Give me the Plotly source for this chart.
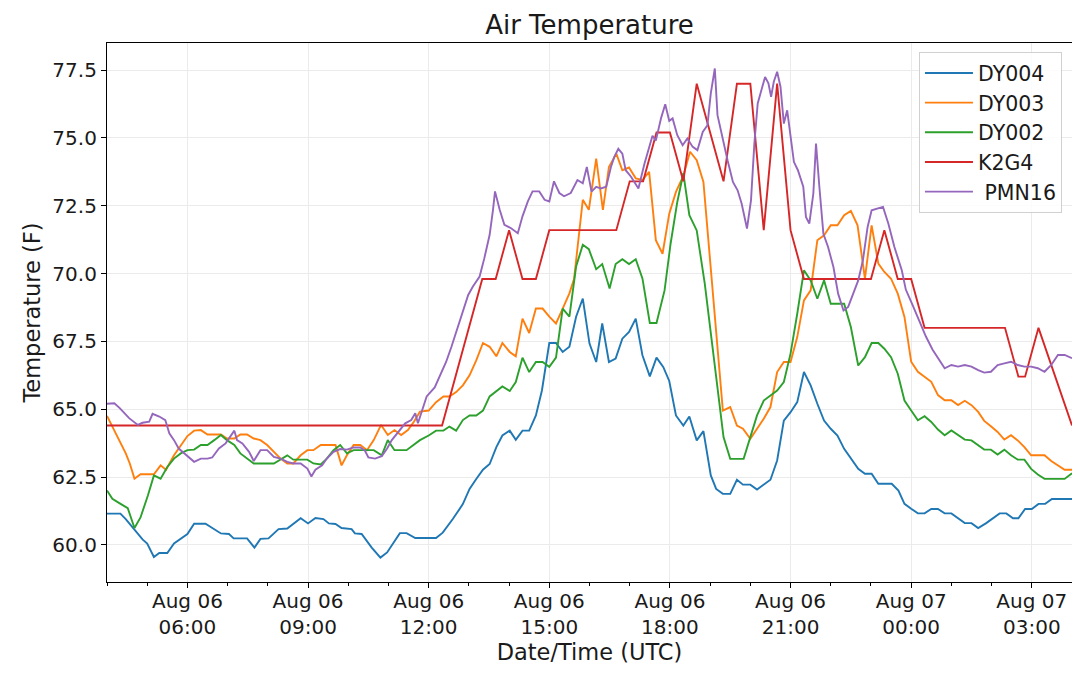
import pandas as pd
import plotly.graph_objects as go

# readings, times are UTC clock times starting Aug 06 04:00 (rolls into Aug 07)
DY004_TIME = [
    "04:00", "04:20", "04:28", "04:40", "04:53", "05:00", "05:10", "05:18", "05:30", "05:40",
    "06:00", "06:10", "06:27", "06:50", "07:02", "07:09", "07:29", "07:40", "07:49", "08:01",
    "08:16", "08:29", "08:49", "09:00", "09:11", "09:23", "09:31", "09:41", "09:50", "10:05",
    "10:10", "10:20", "10:35", "10:48", "10:58", "11:17", "11:27", "11:40", "12:11", "12:21",
    "12:36", "12:51", "13:01", "13:11", "13:21", "13:31", "13:41", "13:50", "14:01", "14:10",
    "14:20", "14:30", "14:40", "14:49", "15:00", "15:10", "15:20", "15:30", "15:40", "15:50",
    "16:00", "16:10", "16:19", "16:29", "16:39", "16:49", "16:59", "17:09", "17:19", "17:30",
    "17:40", "17:50", "17:59", "18:09", "18:20", "18:29", "18:40", "18:50", "19:01", "19:09",
    "19:19", "19:30", "19:40", "19:49", "20:00", "20:10", "20:20", "20:30", "20:40", "20:50",
    "21:00", "21:10", "21:20", "21:30", "21:40", "21:50", "22:00", "22:10", "22:20", "22:30",
    "22:41", "22:51", "23:01", "23:11", "23:31", "23:41", "23:50", "00:00", "00:10", "00:20",
    "00:30", "00:40", "00:50", "01:00", "01:10", "01:20", "01:30", "01:40", "01:52", "02:02",
    "02:12", "02:22", "02:32", "02:40", "02:50", "03:00", "03:10", "03:20", "03:30", "04:00",
]
DY004_TEMP = [
    61.15, 61.15, 60.95, 60.6, 60.2, 60.05, 59.55, 59.7, 59.7, 60.05,
    60.4, 60.78, 60.78, 60.42, 60.4, 60.24, 60.24, 59.9, 60.22, 60.24,
    60.58, 60.6, 60.98, 60.79, 60.99, 60.95, 60.79, 60.77, 60.62, 60.58,
    60.42, 60.4, 59.9, 59.53, 59.72, 60.43, 60.43, 60.25, 60.25, 60.45,
    60.95, 61.5, 62.06, 62.43, 62.77, 62.98, 63.6, 64.03, 64.21, 63.87,
    64.21, 64.21, 64.77, 65.69, 67.44, 67.44, 67.11, 67.3, 68.41, 69.08,
    67.42, 66.74, 68.16, 66.74, 66.87, 67.6, 67.85, 68.34, 66.99, 66.21,
    66.9, 66.56, 66.04, 64.77, 64.4, 64.73, 63.85, 64.19, 62.56, 62.06,
    61.88, 61.88, 62.4, 62.22, 62.22, 62.04, 62.22, 62.4, 63.11, 64.58,
    64.89, 65.26, 66.37, 65.88, 65.2, 64.58, 64.28, 64.03, 63.54, 63.17,
    62.8, 62.62, 62.62, 62.25, 62.25, 62.0, 61.51, 61.33, 61.16, 61.16,
    61.32, 61.32, 61.16, 61.16, 60.98, 60.8, 60.8, 60.62, 60.8, 60.98,
    61.16, 61.16, 60.98, 60.98, 61.32, 61.32, 61.51, 61.51, 61.69, 61.69,
]

DY003_TIME = [
    "04:00", "04:08", "04:19", "04:28", "04:34", "04:41", "04:50", "05:10", "05:20", "05:28",
    "05:40", "05:50", "06:00", "06:10", "06:20", "06:30", "06:50", "06:59", "07:10", "07:19",
    "07:29", "07:39", "07:49", "07:59", "08:09", "08:19", "08:29", "08:38", "08:49", "08:59",
    "09:08", "09:19", "09:41", "09:50", "09:58", "10:08", "10:18", "10:28", "10:38", "10:49",
    "10:59", "11:09", "11:19", "11:29", "11:38", "11:47", "12:00", "12:11", "12:22", "12:31",
    "12:41", "12:51", "13:01", "13:11", "13:21", "13:31", "13:41", "13:50", "14:01", "14:10",
    "14:20", "14:30", "14:40", "14:50", "15:00", "15:10", "15:20", "15:30", "15:37", "15:44",
    "15:50", "15:59", "16:10", "16:20", "16:29", "16:40", "16:49", "16:59", "17:09", "17:19",
    "17:29", "17:39", "17:49", "17:59", "18:09", "18:20", "18:30", "18:40", "18:50", "19:19",
    "19:30", "19:40", "19:49", "20:00", "20:10", "20:20", "20:30", "20:40", "20:50", "21:00",
    "21:10", "21:20", "21:30", "21:40", "21:50", "22:00", "22:10", "22:20", "22:30", "22:40",
    "22:51", "23:01", "23:11", "23:20", "23:30", "23:40", "23:50", "00:00", "00:10", "00:20",
    "00:30", "00:40", "00:50", "01:00", "01:10", "01:20", "01:30", "01:40", "01:49", "01:59",
    "02:09", "02:19", "02:29", "02:39", "02:49", "02:59", "03:19", "03:29", "03:39", "03:49",
    "04:00",
]
DY003_TEMP = [
    64.75, 64.36, 63.8, 63.37, 63.0, 62.44, 62.6, 62.6, 62.93, 62.77,
    63.3, 63.68, 64.01, 64.21, 64.23, 64.07, 64.07, 63.92, 63.92, 64.07,
    64.07, 63.92, 63.86, 63.68, 63.43, 63.18, 63.0, 63.0, 63.3, 63.49,
    63.49, 63.68, 63.68, 62.93, 63.3, 63.68, 63.68, 63.49, 63.86, 64.42,
    64.05, 64.23, 64.05, 64.23, 64.54, 64.91, 64.95, 65.26, 65.47, 65.47,
    65.63, 65.88, 66.25, 66.8, 67.44, 67.3, 66.95, 67.44, 67.11, 66.95,
    68.34, 67.81, 68.71, 68.71, 68.41, 68.16, 68.71, 69.27, 69.81, 71.26,
    72.72, 72.35, 74.24, 72.35, 73.93, 74.42, 73.81, 73.91, 73.51, 73.45,
    73.75, 71.23, 70.73, 72.21, 73.01, 73.6, 74.49, 74.18, 73.38, 64.95,
    65.08, 64.4, 64.28, 63.91, 64.28, 64.65, 65.08, 66.37, 66.74, 66.74,
    67.66, 69.01, 69.38, 71.23, 71.41, 71.78, 71.78, 72.15, 72.31, 71.78,
    69.81, 71.78, 70.37, 70.06, 69.81, 69.26, 68.4, 66.75, 66.38, 66.2,
    66.01, 65.52, 65.33, 65.33, 65.15, 65.31, 65.15, 64.9, 64.57, 64.37,
    64.16, 63.88, 64.04, 63.85, 63.6, 63.3, 63.3, 63.09, 62.93, 62.77,
    62.77,
]

DY002_TIME = [
    "04:00", "04:08", "04:19", "04:31", "04:41", "04:50", "05:01", "05:10", "05:20", "05:30",
    "05:40", "05:50", "06:00", "06:10", "06:20", "06:30", "06:40", "06:50", "06:59", "07:10",
    "07:19", "07:29", "07:39", "08:09", "08:19", "08:29", "08:38", "08:59", "09:08", "09:19",
    "09:28", "09:38", "09:48", "09:58", "10:08", "10:38", "10:50", "10:59", "11:09", "11:27",
    "11:47", "12:00", "12:11", "12:22", "12:31", "12:41", "12:51", "13:01", "13:11", "13:21",
    "13:31", "13:41", "13:50", "14:01", "14:10", "14:20", "14:30", "14:40", "14:50", "15:00",
    "15:10", "15:20", "15:30", "15:40", "15:50", "15:59", "16:10", "16:19", "16:30", "16:39",
    "16:49", "16:59", "17:09", "17:19", "17:30", "17:40", "17:52", "18:01", "18:11", "18:20",
    "18:29", "18:40", "18:52", "19:20", "19:30", "19:50", "20:00", "20:10", "20:20", "20:30",
    "20:40", "20:50", "21:00", "21:10", "21:20", "21:30", "21:40", "21:50", "22:00", "22:20",
    "22:30", "22:41", "22:51", "23:01", "23:11", "23:20", "23:30", "23:40", "23:50", "00:00",
    "00:10", "00:20", "00:30", "00:40", "00:50", "01:00", "01:10", "01:20", "01:30", "01:40",
    "01:49", "01:59", "02:09", "02:19", "02:29", "02:39", "02:49", "02:59", "03:09", "03:19",
    "03:49", "04:00",
]
DY002_TEMP = [
    62.0, 61.7, 61.53, 61.35, 60.62, 61.01, 61.82, 62.56, 62.44, 62.87,
    63.18, 63.37, 63.49, 63.51, 63.68, 63.68, 63.86, 64.05, 63.86, 63.68,
    63.37, 63.18, 63.0, 63.0, 63.14, 63.3, 63.14, 63.14, 63.0, 62.96,
    63.18, 63.49, 63.68, 63.37, 63.49, 63.49, 63.3, 63.86, 63.49, 63.49,
    63.86, 64.03, 64.21, 64.21, 64.36, 64.21, 64.6, 64.77, 64.77, 64.95,
    65.47, 65.67, 65.84, 65.67, 66.0, 66.9, 66.37, 66.74, 66.74, 66.56,
    66.9, 68.71, 68.41, 70.26, 71.06, 70.9, 70.16, 70.35, 69.45, 70.35,
    70.53, 70.35, 70.53, 69.82, 68.18, 68.18, 69.38, 71.1, 72.64, 73.7,
    72.15, 71.59, 69.63, 63.97, 63.17, 63.17, 63.97, 64.77, 65.32, 65.51,
    65.69, 66.0, 67.05, 68.52, 70.12, 69.75, 69.07, 69.75, 68.89, 68.89,
    68.03, 66.61, 66.92, 67.44, 67.44, 67.23, 66.92, 66.31, 65.32, 64.95,
    64.59, 64.74, 64.53, 64.25, 64.04, 64.22, 64.04, 63.88, 63.85, 63.67,
    63.51, 63.51, 63.33, 63.51, 63.3, 63.14, 63.14, 62.8, 62.59, 62.43,
    62.43, 62.64,
]

K2G4_TIME = [
    "04:00", "12:20", "13:20", "13:40", "14:00", "14:20", "14:40", "15:00", "16:40", "17:00",
    "17:20", "17:40", "18:00", "18:20", "18:40", "19:20", "19:40", "20:00", "20:20", "20:40",
    "21:00", "21:20", "23:00", "23:20", "23:40", "00:00", "00:20", "02:20", "02:40", "02:50",
    "03:10", "04:00",
]
K2G4_TEMP = [
    64.4, 64.4, 69.8, 69.8, 71.6, 69.8, 69.8, 71.6, 71.6, 73.4,
    73.4, 75.2, 75.2, 73.4, 77.0, 73.4, 77.0, 77.0, 71.6, 77.0,
    71.6, 69.8, 69.8, 71.6, 69.8, 69.8, 68.0, 68.0, 66.2, 66.2,
    68.0, 64.4,
]

PMN16_TIME = [
    "04:00", "04:11", "04:19", "04:26", "04:33", "04:46", "04:53", "05:03", "05:08", "05:18",
    "05:27", "05:33", "05:40", "05:47", "05:58", "06:10", "06:20", "06:30", "06:37", "06:47",
    "06:57", "07:04", "07:10", "07:14", "07:22", "07:32", "07:39", "07:49", "07:59", "08:09",
    "08:19", "08:29", "08:38", "08:49", "08:59", "09:05", "09:11", "09:21", "09:28", "09:38",
    "09:48", "09:58", "10:08", "10:18", "10:25", "10:30", "10:40", "10:50", "10:58", "11:05",
    "11:15", "11:25", "11:34", "11:40", "11:44", "11:50", "11:57", "12:09", "12:19", "12:26",
    "12:34", "12:44", "12:51", "12:59", "13:06", "13:16", "13:23", "13:31", "13:36", "13:39",
    "13:46", "13:53", "14:03", "14:13", "14:20", "14:28", "14:35", "14:45", "14:53", "15:00",
    "15:07", "15:15", "15:22", "15:32", "15:42", "15:50", "15:56", "16:03", "16:10", "16:17",
    "16:25", "16:32", "16:37", "16:43", "16:49", "16:54", "17:02", "17:13", "17:22", "17:29",
    "17:34", "17:39", "17:47", "17:53", "17:59", "18:04", "18:11", "18:19", "18:26", "18:34",
    "18:41", "18:49", "18:56", "19:01", "19:07", "19:11", "19:19", "19:26", "19:34", "19:41",
    "19:47", "19:51", "19:55", "20:01", "20:06", "20:11", "20:16", "20:22", "20:27", "20:31",
    "20:35", "20:40", "20:45", "20:50", "20:55", "21:00", "21:05", "21:11", "21:19", "21:23",
    "21:28", "21:34", "21:38", "21:43", "21:49", "21:56", "22:04", "22:11", "22:19", "22:26",
    "22:34", "22:41", "22:48", "22:55", "23:01", "23:11", "23:18", "23:26", "23:35", "23:46",
    "23:52", "00:02", "00:13", "00:22", "00:32", "00:42", "00:50", "01:00", "01:10", "01:20",
    "01:30", "01:40", "01:49", "01:59", "02:09", "02:19", "02:29", "02:39", "02:49", "02:59",
    "03:09", "03:19", "03:29", "03:39", "03:49", "04:00",
]
PMN16_TEMP = [
    65.2, 65.22, 65.04, 64.85, 64.67, 64.42, 64.5, 64.54, 64.83, 64.73,
    64.6, 64.11, 63.86, 63.55, 63.3, 63.06, 63.18, 63.18, 63.22, 63.55,
    63.74, 63.99, 64.21, 63.86, 63.74, 63.43, 63.09, 63.49, 63.49, 63.24,
    63.18, 63.06, 63.0, 63.0, 62.81, 62.52, 62.77, 62.93, 63.18, 63.43,
    63.53, 63.51, 63.59, 63.59, 63.47, 63.22, 63.18, 63.27, 63.55, 63.86,
    64.17, 64.48, 64.6, 64.85, 64.48, 64.91, 65.47, 65.8, 66.37, 66.74,
    67.3, 68.04, 68.59, 69.21, 69.52, 69.89, 70.56, 71.43, 72.35, 73.03,
    72.35, 71.8, 71.67, 71.49, 72.11, 72.66, 73.03, 73.03, 72.72, 72.66,
    73.4, 72.97, 72.85, 72.97, 73.45, 73.33, 73.93, 73.02, 73.2, 73.14,
    73.2, 73.93, 74.3, 74.6, 74.42, 73.81, 73.57, 73.14, 74.05, 74.66,
    75.08, 74.9, 75.75, 76.24, 75.63, 75.72, 75.1, 74.73, 74.98, 74.67,
    74.55, 75.22, 75.47, 76.64, 77.56, 75.84, 74.92, 74.18, 73.38, 73.07,
    72.58, 72.09, 71.66, 72.7, 74.79, 76.27, 76.76, 77.25, 77.01, 76.52,
    77.07, 77.44, 76.89, 75.53, 76.02, 75.04, 74.12, 73.81, 73.2, 72.09,
    71.84, 72.95, 74.79, 73.2, 71.47, 70.98, 70.24, 69.26, 68.64, 68.77,
    69.26, 69.75, 70.49, 71.72, 72.33, 72.4, 72.46, 71.84, 70.98, 70.12,
    69.41, 68.85, 68.17, 67.68, 67.19, 66.81, 66.51, 66.63, 66.57, 66.63,
    66.57, 66.44, 66.35, 66.38, 66.63, 66.69, 66.75, 66.63, 66.57, 66.57,
    66.51, 66.38, 66.63, 67.0, 67.0, 66.88,
]

STATIONS = ["DY004", "DY003", "DY002", "K2G4", " PMN16"]
COLORS = ["#1f77b4", "#ff7f0e", "#2ca02c", "#d62728", "#9467bd"]

X_TICKS = ["2019-08-06 06:00", "2019-08-06 09:00", "2019-08-06 12:00", "2019-08-06 15:00",
           "2019-08-06 18:00", "2019-08-06 21:00", "2019-08-07 00:00", "2019-08-07 03:00"]
X_TICK_TEXT = ["Aug 06<br>06:00", "Aug 06<br>09:00", "Aug 06<br>12:00", "Aug 06<br>15:00",
               "Aug 06<br>18:00", "Aug 06<br>21:00", "Aug 07<br>00:00", "Aug 07<br>03:00"]
Y_TICKS = [60.0, 62.5, 65.0, 67.5, 70.0, 72.5, 75.0, 77.5]

START_DAY = pd.Timestamp("2019-08-06")
FONT = "DejaVu Sans, Verdana, sans-serif"
INK = "#1a1a1a"


def clock_to_datetime(clock: list[str]) -> list[pd.Timestamp]:
    # clock strings go forward in time; a smaller value means the next day
    out = []
    day = 0
    prev = -1
    for s in clock:
        h, m = (int(v) for v in s.split(":"))
        minutes = h * 60 + m
        if minutes < prev:
            day += 1
        prev = minutes
        out.append(START_DAY + pd.Timedelta(days=day, minutes=minutes))
    return out


series = [
    (DY004_TIME, DY004_TEMP),
    (DY003_TIME, DY003_TEMP),
    (DY002_TIME, DY002_TEMP),
    (K2G4_TIME, K2G4_TEMP),
    (PMN16_TIME, PMN16_TEMP),
]

fig = go.Figure()
for name, color, (times, temps) in zip(STATIONS, COLORS, series):
    fig.add_trace(
        go.Scatter(
            x=clock_to_datetime(times),
            y=temps,
            mode="lines",
            name=name,
            line=dict(color=color, width=1.9),
        )
    )

axis_common = dict(
    showline=True,
    linecolor="#000000",
    linewidth=1.2,
    mirror=True,
    ticks="outside",
    ticklen=5,
    tickwidth=1.2,
    tickcolor="#000000",
    showgrid=True,
    gridcolor="#ebebeb",
    gridwidth=1,
    zeroline=False,
    tickfont=dict(family=FONT, size=20, color=INK),
)

# the page body has an 8px margin, so the margins below are shifted by it
fig.update_layout(
    width=1080,
    height=676,
    paper_bgcolor="#ffffff",
    plot_bgcolor="#ffffff",
    margin=dict(l=99, r=16, t=35, b=102),
    font=dict(family=FONT, color=INK),
    title=dict(
        text="Air Temperature",
        xref="paper",
        x=0.5,
        xanchor="center",
        y=0.975,
        yanchor="middle",
        font=dict(family=FONT, size=26, color=INK),
    ),
    showlegend=True,
    legend=dict(
        x=0.9896,
        xanchor="right",
        y=0.983,
        yanchor="top",
        bgcolor="rgba(255,255,255,0.85)",
        bordercolor="#d0d0d0",
        borderwidth=1,
        itemwidth=48,
        font=dict(family=FONT, size=20.5, color=INK),
    ),
    xaxis=dict(
        **axis_common,
        type="date",
        range=["2019-08-06 04:00", "2019-08-07 04:00"],
        tickvals=X_TICKS,
        ticktext=X_TICK_TEXT,
        ticklabelstandoff=-4,
        minor=dict(ticks="outside", ticklen=3, dtick=3600000, tickcolor="#000000", showgrid=False),
        title=dict(text="Date/Time (UTC)", font=dict(family=FONT, size=22.5, color=INK), standoff=2),
    ),
    yaxis=dict(
        **axis_common,
        range=[58.63, 78.5],
        tickvals=Y_TICKS,
        tickformat=".1f",
        title=dict(text="Temperature (F)", font=dict(family=FONT, size=22.5, color=INK), standoff=5),
    ),
)

fig.write_html("out.html")
